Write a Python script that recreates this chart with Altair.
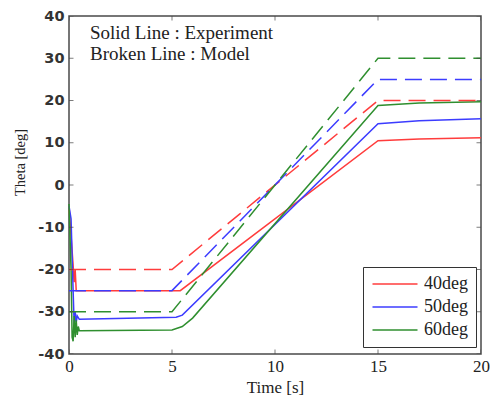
import altair as alt
import pandas as pd

series = ["40deg", "50deg", "60deg"]
colors = ["#ff3c3c", "#3c3cff", "#2f8f2f"]

# Model (broken lines)
model_t = [0.0, 5.0, 15.0, 20.0]
model_40 = [-20, -20, 20, 20]
model_50 = [-25, -25, 25, 25]
model_60 = [-30, -30, 30, 30]

# Experiment (solid lines)
exp40_t = [0.0, 0.1, 0.2, 0.25, 0.3, 0.35, 0.45, 5.4, 15.0, 17.0, 20.0]
exp40_y = [-5, -12, -19, -23, -20, -25, -25, -25, 10.5, 10.9, 11.2]
exp50_t = [0.0, 0.1, 0.2, 0.25, 0.3, 0.35, 0.4, 0.5, 5.2, 5.5, 15.0, 17.0, 20.0]
exp50_y = [-5, -8, -25, -33, -30, -32.5, -31, -31.8, -31.3, -30.8, 14.5, 15.2, 15.7]
exp60_t = [0.0, 0.1, 0.15, 0.2, 0.25, 0.3, 0.35, 0.4, 0.45, 0.5, 5.0, 5.5, 6.0, 15.0, 17.0, 20.0]
exp60_y = [-4.5, -20, -36, -37, -31, -36, -32, -35.5, -33.5, -34.5, -34.3, -33.5, -31.5, 18.8, 19.4, 19.7]

x_ticks = [0, 5, 10, 15, 20]
y_ticks = [-40, -30, -20, -10, 0, 10, 20, 30, 40]

note1 = "Solid Line : Experiment"
note2 = "Broken Line : Model"

exp_rows = []
for s, ts, ys in zip(series, [exp40_t, exp50_t, exp60_t], [exp40_y, exp50_y, exp60_y]):
    for t, y in zip(ts, ys):
        exp_rows.append({"t": t, "theta": y, "series": s})
exp_df = pd.DataFrame(exp_rows)

mod_rows = []
for s, ys in zip(series, [model_40, model_50, model_60]):
    for t, y in zip(model_t, ys):
        mod_rows.append({"t": t, "theta": y, "series": s})
mod_df = pd.DataFrame(mod_rows)

xt_df = pd.DataFrame({"t": x_ticks * 2, "theta": [-40] * len(x_ticks) + [40] * len(x_ticks)})
yt_df = pd.DataFrame({"t": [0] * len(y_ticks) + [20] * len(y_ticks), "theta": y_ticks * 2})

SERIF = "Liberation Serif"
x_scale = alt.Scale(domain=[0, 20], nice=False)
y_scale = alt.Scale(domain=[-40, 40], nice=False)
c_scale = alt.Scale(domain=series, range=colors)

x_axis = alt.Axis(values=x_ticks, ticks=False, domain=False, grid=False,
                  labelFont=SERIF, labelFontSize=17, labelColor="#222",
                  labelPadding=4, labelFlush=False, labelOverlap=False,
                  titleFont=SERIF, titleFontSize=17, titleFontWeight="normal",
                  titleColor="#222", titleY=38, titleBaseline="alphabetic")
y_axis = alt.Axis(values=y_ticks, ticks=False, domain=False, grid=False,
                  labelExpr="'' + datum.value",
                  labelFont="DejaVu Sans", labelFontSize=14.5, labelFontWeight="bold",
                  labelColor="#333", labelPadding=5, labelFlush=False, labelOverlap=False,
                  titleFont=SERIF, titleFontSize=14.5, titleFontWeight="normal",
                  titleColor="#222", titleX=-45, titleY=146, titleBaseline="alphabetic")

X = alt.X("t:Q", scale=x_scale, axis=x_axis, title="Time [s]")
Y = alt.Y("theta:Q", scale=y_scale, axis=y_axis, title="Theta [deg]")

legend = alt.Legend(title=None, orient="none", legendX=294, legendY=251,
                    symbolType="M-1,0H5", symbolSize=225, symbolStrokeWidth=1.5,
                    labelFont=SERIF, labelFontSize=18, labelColor="#222",
                    labelOffset=35, rowPadding=5, padding=8,
                    strokeColor="#333", fillColor="white")

solid = alt.Chart(exp_df).mark_line(strokeWidth=1.5).encode(
    x=X, y=Y,
    color=alt.Color("series:N", scale=c_scale, legend=legend),
)

dashed = alt.Chart(mod_df).mark_line(strokeWidth=1.5, strokeDash=[17, 8]).encode(
    x=X, y=Y,
    color=alt.Color("series:N", scale=c_scale, legend=legend),
)

xticks = alt.Chart(xt_df).mark_tick(orient="vertical", size=9, thickness=1, clip=True, color="#444").encode(
    x=X, y=Y,
)
yticks = alt.Chart(yt_df).mark_tick(orient="horizontal", size=9, thickness=1, clip=True, color="#444").encode(
    x=X, y=Y,
)

text_style = dict(align="left", baseline="alphabetic", font=SERIF, fontSize=19, color="#222")
t1 = alt.Chart(pd.DataFrame({"label": [note1]})).mark_text(**text_style).encode(
    x=alt.value(21), y=alt.value(23), text="label:N")
t2 = alt.Chart(pd.DataFrame({"label": [note2]})).mark_text(**text_style).encode(
    x=alt.value(21), y=alt.value(44), text="label:N")

chart = alt.layer(solid, dashed, xticks, yticks, t1, t2).properties(
    width=412, height=338,
    autosize=alt.AutoSizeParams(type="none"),
    padding={"left": 61, "top": 8, "right": 9, "bottom": 44},
).configure_view(stroke="#4a4a4a", strokeWidth=1.5)

chart.save("out.html", embed_options={"renderer": "svg", "actions": False})
